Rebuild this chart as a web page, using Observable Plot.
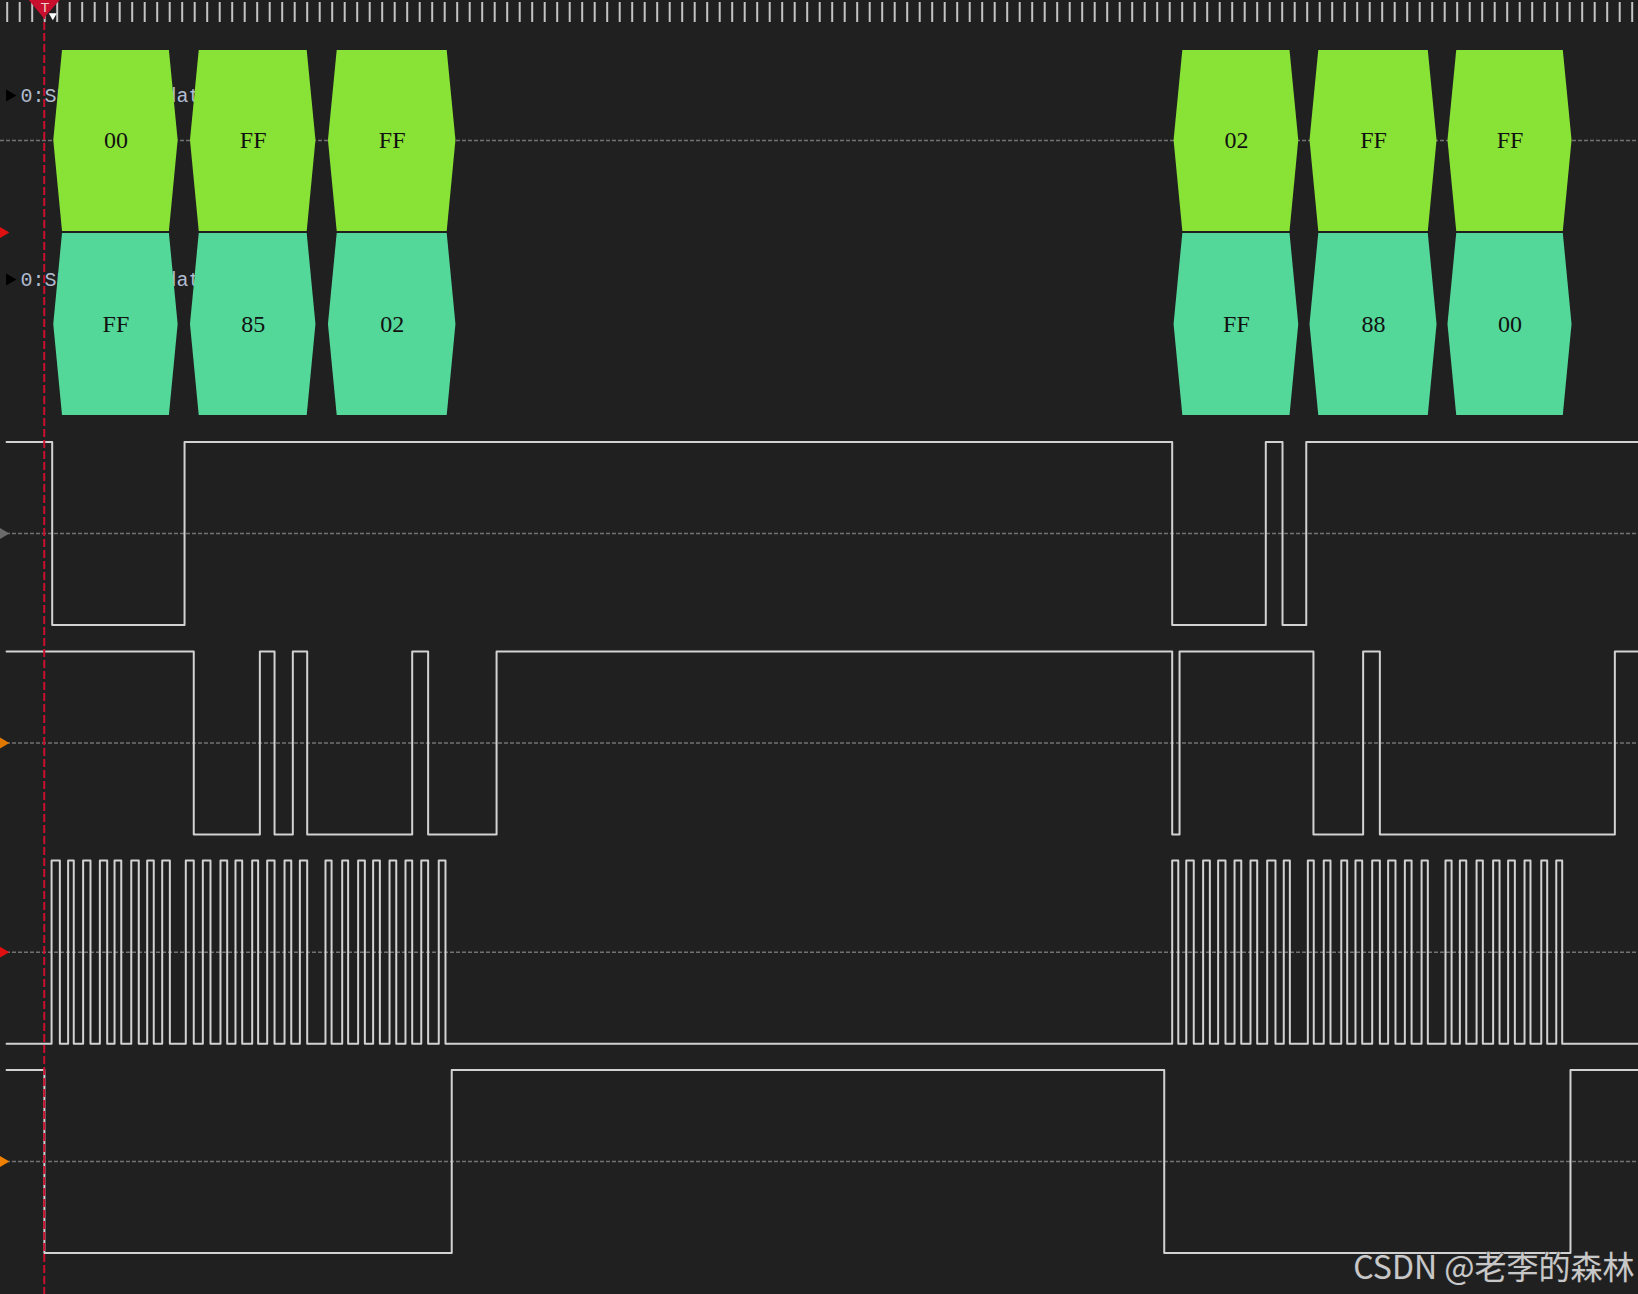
<!DOCTYPE html>
<html><head><meta charset="utf-8">
<script src="https://cdn.jsdelivr.net/npm/d3@7"></script>
<script src="https://cdn.jsdelivr.net/npm/@observablehq/plot@0.6"></script>
<style>html,body{margin:0;padding:0;background:#202020;overflow:hidden}</style>
</head><body><div id="chart"></div>
<script>
// ---------------- DATA (time in µs) ----------------
const cursorTime = 2.37;

// decoded SPI bytes
const byteStart = [2.98, 11.73, 20.56, 74.68, 83.38, 92.21];
const byteEnd   = [10.94, 19.76, 28.72, 82.66, 91.51, 100.15];
const mosiBytes = ["00", "FF", "FF", "02", "FF", "FF"];
const misoBytes = ["FF", "85", "02", "FF", "88", "00"];
const busLabels = ["0:SPI: MOSI data", "0:SPI: MISO data"];

// MOSI digital line: edge times and level after each edge
const mosiTimes  = [-0.04, 2.88, 11.35, 74.56, 80.55, 81.62, 83.14, 104.40];
const mosiLevels = [1, 0, 1, 0, 1, 0, 1, 1];

// MISO digital line
const misoTimes  = [-0.04, 11.94, 16.17, 17.11, 18.28, 19.20, 25.92, 26.94, 31.32, 74.56, 75.03, 83.60, 86.78, 87.85, 102.89, 104.40];
const misoLevels = [1, 0, 1, 0, 1, 0, 1, 0, 1, 0, 1, 0, 1, 0, 1, 1];

// SCLK pulses (rising / falling edges)
const sclkRise = [2.84, 3.90, 4.86, 5.93, 6.87, 7.94, 8.96, 9.92,
                  11.43, 12.52, 13.65, 14.61, 15.68, 16.64, 17.75, 18.73,
                  20.37, 21.44, 22.46, 23.42, 24.47, 25.49, 26.50, 27.62,
                  74.56, 75.46, 76.54, 77.50, 78.55, 79.57, 80.64, 81.70,
                  83.24, 84.26, 85.38, 86.29, 87.36, 88.38, 89.45, 90.52,
                  92.05, 92.97, 94.04, 95.10, 96.06, 97.11, 98.18, 99.14];
const sclkFall = [3.37, 4.26, 5.33, 6.40, 7.30, 8.42, 9.38, 10.41,
                  11.94, 13.01, 14.08, 15.04, 16.06, 17.11, 18.18, 19.20,
                  20.76, 21.82, 22.89, 23.85, 24.90, 25.92, 26.94, 28.05,
                  74.95, 75.94, 76.97, 77.97, 78.98, 80.00, 81.17, 82.09,
                  83.62, 84.69, 85.76, 86.72, 87.85, 88.85, 89.88, 90.92,
                  92.44, 93.38, 94.44, 95.51, 96.49, 97.49, 98.56, 99.52];

// CS line
const csTimes  = [-0.04, 2.38, 28.45, 74.05, 100.05, 104.40];
const csLevels = [1, 0, 1, 0, 1, 1];

const watermark = "CSDN @老李的森林";

// ---------------- LAYOUT ----------------
const W = 1638, H = 1294;
const tMin = -0.4288, tMax = 104.4032;
const inset = 0.56;
const busLanes = [
  {top: 50, mid: 140, bottom: 231, label: 95, fill: "#89e236", bytes: mosiBytes, name: busLabels[0]},
  {top: 233, mid: 324, bottom: 415, label: 279, fill: "#53d899", bytes: misoBytes, name: busLabels[1]}
];
const amp = 91.6;
const digitalMids = [533, 742.5, 951.7, 1161];

// ---------------- BUILD TABLES ----------------
const hexPts = busLanes.flatMap((lane, li) => byteStart.flatMap((s, i) => {
  const e = byteEnd[i], id = li + "-" + i;
  return [
    {id, lane: li, y: lane.top, x1: s + inset, x2: e - inset},
    {id, lane: li, y: lane.mid, x1: s, x2: e},
    {id, lane: li, y: lane.bottom, x1: s + inset, x2: e - inset}
  ];
}));
const byteText = busLanes.flatMap((lane, li) => byteStart.map((s, i) => ({
  x: (s + byteEnd[i]) / 2, y: lane.mid, text: lane.bytes[i]
})));

function stepPts(name, times, levels, mid) {
  return times.map((t, i) => ({name, t, y: mid - (levels[i] - 0.5) * 2 * amp}));
}
const sclkTimes = [-0.04], sclkLevels = [0];
sclkRise.forEach((r, i) => { sclkTimes.push(r, sclkFall[i]); sclkLevels.push(1, 0); });
sclkTimes.push(104.40); sclkLevels.push(0);

const wave = [
  ...stepPts("MOSI", mosiTimes, mosiLevels, digitalMids[0]),
  ...stepPts("MISO", misoTimes, misoLevels, digitalMids[1]),
  ...stepPts("SCLK", sclkTimes, sclkLevels, digitalMids[2]),
  ...stepPts("CS", csTimes, csLevels, digitalMids[3])
];

const midLines = [busLanes[0].mid, ...digitalMids];
const leftMarks = [
  {y: 232, c: "#e01010"}, {y: 533, c: "#6a6a6a"}, {y: 742.5, c: "#e07800"},
  {y: 951.7, c: "#e01010"}, {y: 1161, c: "#f08000"}
];
const rulerTicks = d3.range(0, tMax, 0.8);
const px = 0.064; // µs per pixel
const markerTri = [
  {y: 0, x1: cursorTime - 15 * px, x2: cursorTime + 16 * px},
  {y: 18, x1: cursorTime, x2: cursorTime}
];

const chart = Plot.plot({
  width: W, height: H, margin: 0,
  x: {domain: [tMin, tMax], axis: null},
  y: {domain: [0, H], range: [0, H], axis: null},
  style: {background: "#202020", overflow: "visible"},
  marks: [
    // ruler
    Plot.ruleX(rulerTicks, {x: d => d, y1: 2, y2: 22, stroke: "#c4c4c4", strokeWidth: 2}),
    // dashed midlines
    Plot.ruleY(midLines, {y: d => d, stroke: "#727272", strokeWidth: 1.5, strokeDasharray: "4,2"}),
    // bus labels (mostly hidden behind boxes)
    Plot.text(busLanes, {x: 0.85, y: "label", text: "name", fill: "#b0bcd0", fontSize: 20,
      fontFamily: "Liberation Mono", textAnchor: "start"}),
    Plot.dot(busLanes, {x: 0.15, y: "label", symbol: "triangle", rotate: 90, r: 4.5, fill: "#000", stroke: null}),
    // decoded bytes
    Plot.areaX(hexPts.filter(d => d.lane === 0), {y: "y", x1: "x1", x2: "x2", z: "id", fill: busLanes[0].fill, curve: "linear"}),
    Plot.areaX(hexPts.filter(d => d.lane === 1), {y: "y", x1: "x1", x2: "x2", z: "id", fill: busLanes[1].fill, curve: "linear"}),
    Plot.text(byteText, {x: "x", y: "y", text: "text", fill: "#111", fontSize: 24, fontFamily: "Liberation Serif"}),
    // digital waveforms
    Plot.line(wave, {x: "t", y: "y", z: "name", curve: "step-after", stroke: "#d2d2d2", strokeWidth: 2}),
    // left markers
    Plot.dot(leftMarks, {x: -0.31, y: "y", symbol: "triangle", rotate: 90, r: 4.5, fill: "c", stroke: null}),
    // cursor
    Plot.ruleX([cursorTime], {x: d => d, stroke: "#c8102e", strokeWidth: 2, strokeDasharray: "8,3"}),
    Plot.areaX(markerTri, {y: "y", x1: "x1", x2: "x2", fill: "#c8102e"}),
    Plot.text(["T"], {x: cursorTime + 0.05, y: 7, text: d => d, fill: "#f2d0d0", fontSize: 13, fontFamily: "DejaVu Sans"}),
    Plot.dot([cursorTime + 0.55], {x: d => d, y: 15, symbol: "triangle", rotate: 180, r: 3, fill: "#ffffff", stroke: null}),
    // watermark
    Plot.text([watermark], {frameAnchor: "bottom-right", text: d => d, dx: -4, dy: -16,
      fill: "#c8c8c8", fontSize: 32, fontFamily: "Noto Sans CJK SC", stroke: "#303030", strokeWidth: 1, paintOrder: "stroke"})
  ]
});
document.getElementById("chart").append(chart);
</script></body></html>
